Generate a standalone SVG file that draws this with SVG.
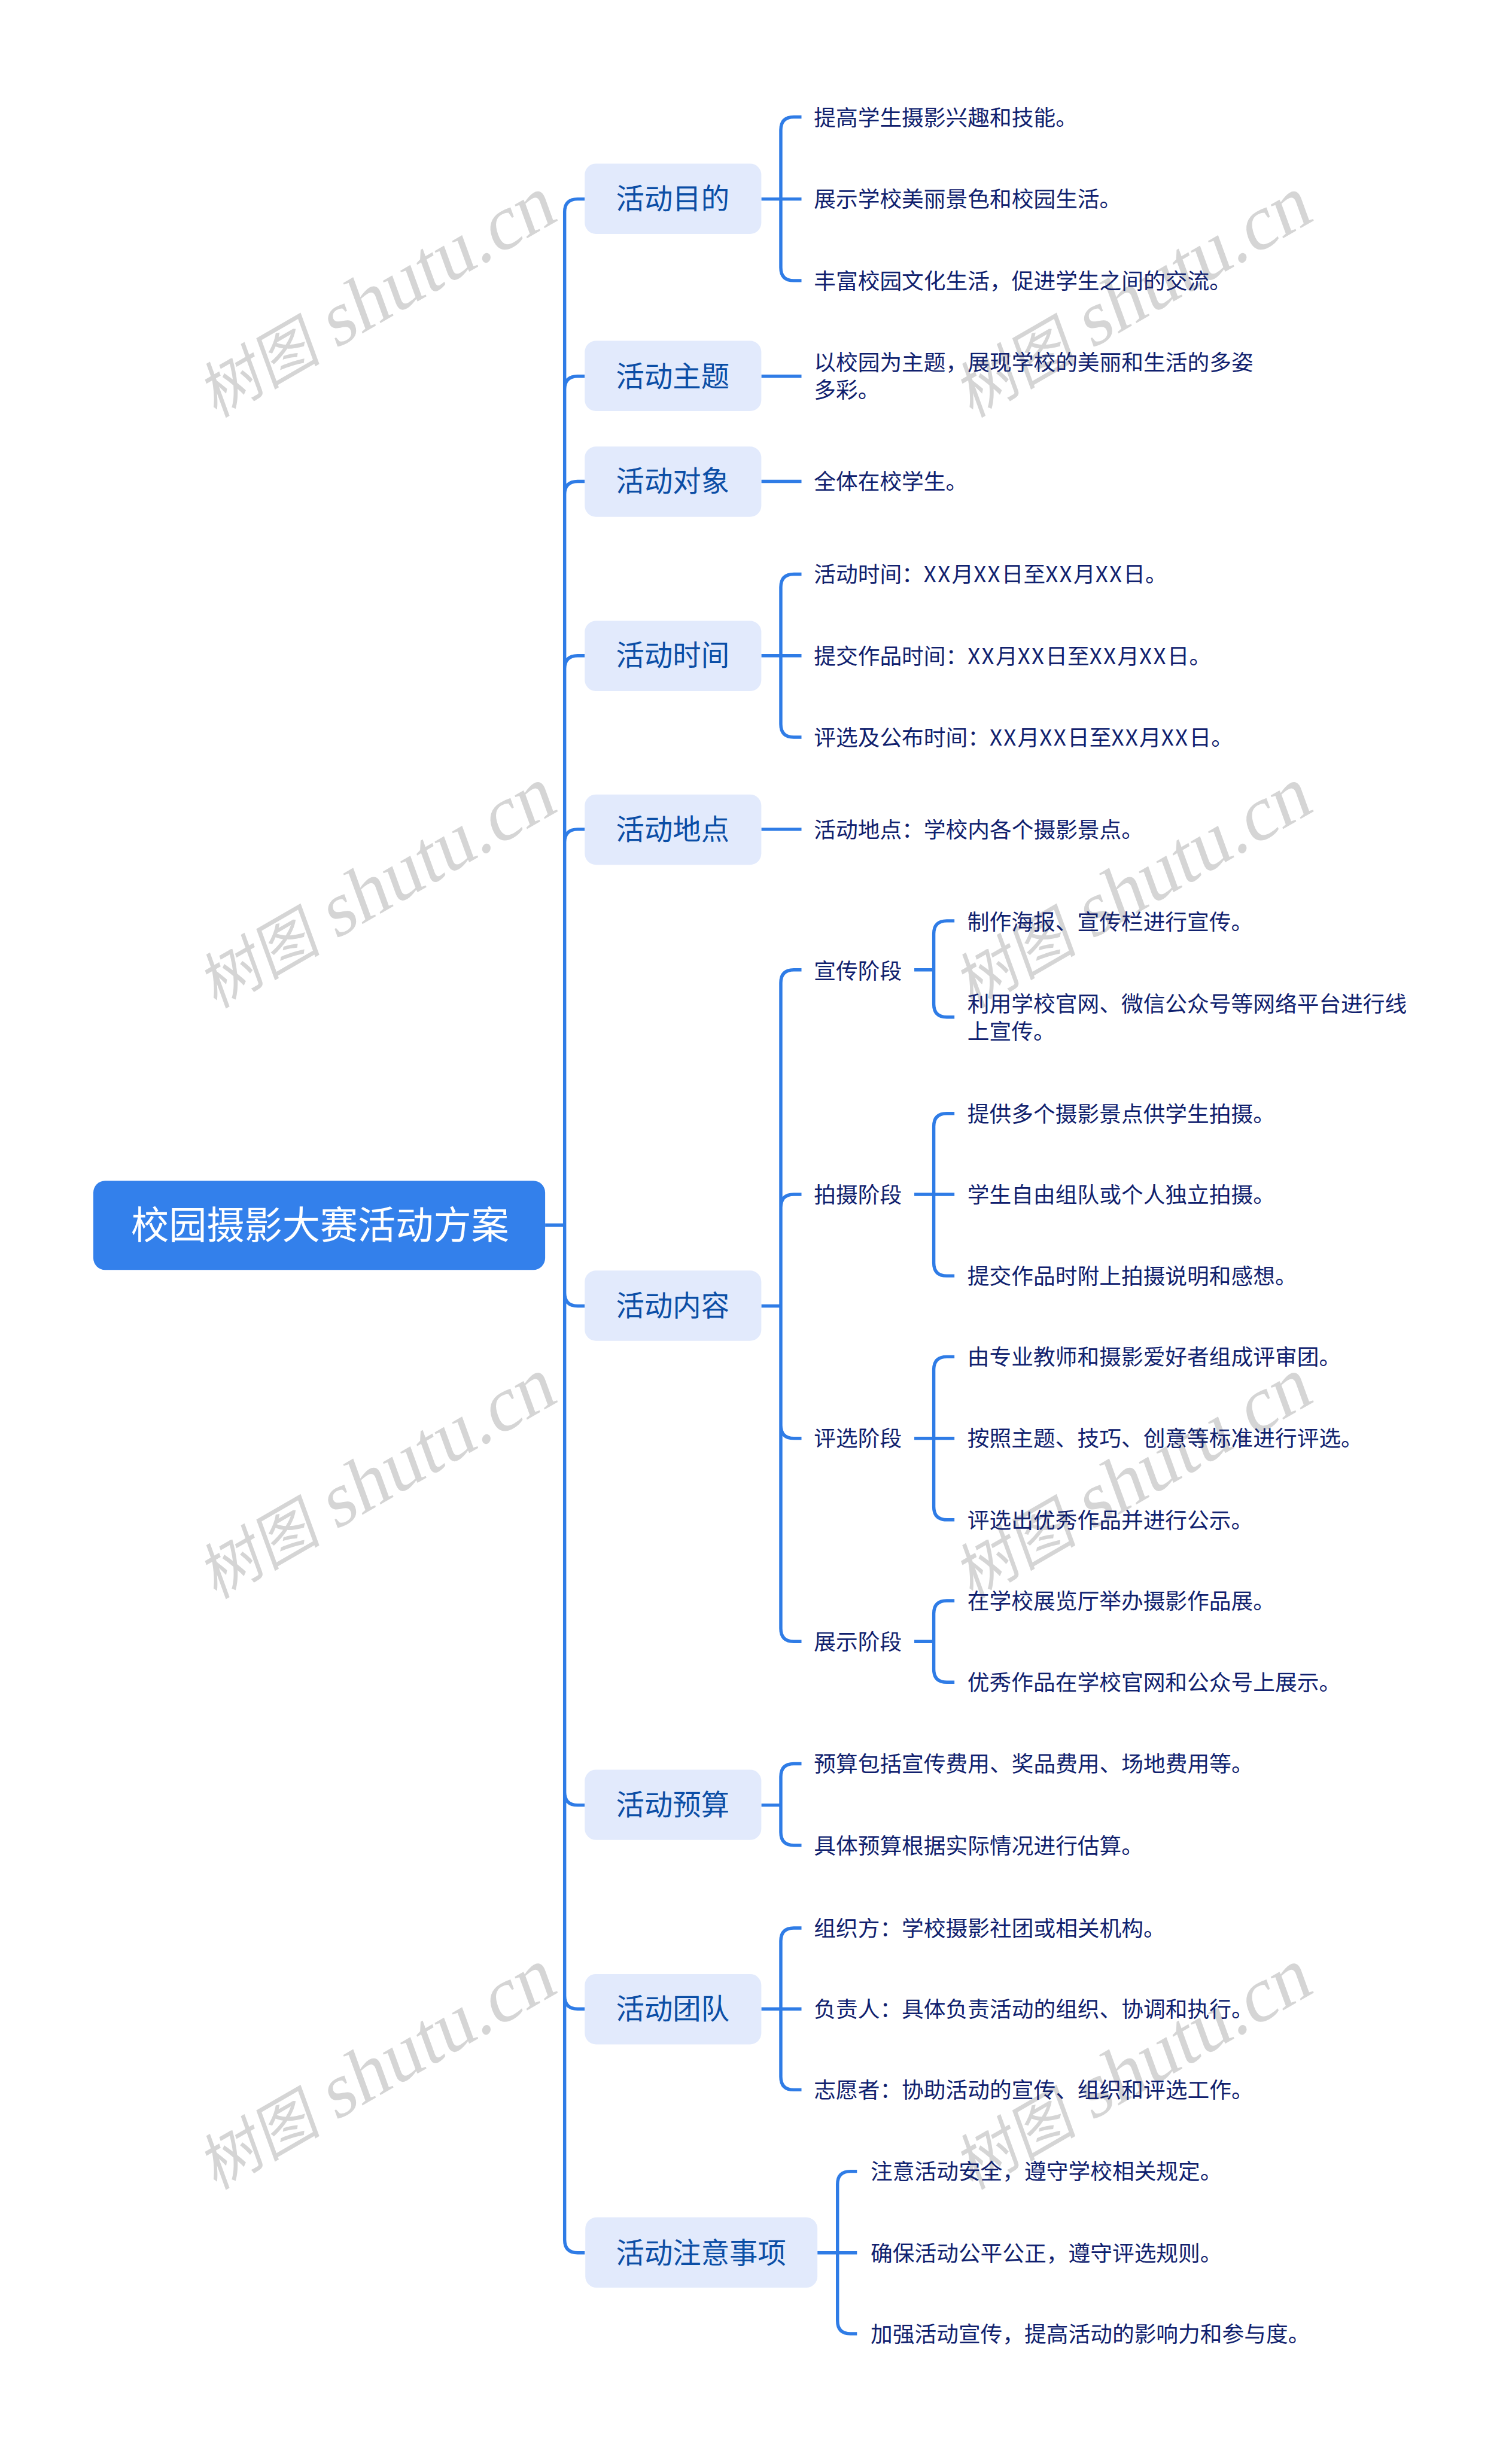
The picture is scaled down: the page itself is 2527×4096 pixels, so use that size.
<svg xmlns="http://www.w3.org/2000/svg" width="2527" height="4096" viewBox="0 0 2527 4096">
<style>
text{font-family:"Noto Sans CJK SC","Noto Sans",sans-serif}
.c{fill:none;stroke:#2f7ce6;stroke-width:5.5;stroke-linecap:butt}
.r{fill:#3380eb}
.b{fill:#e2eafc}
.rt{font-size:64px;fill:#fff}
.bt{font-size:48px;fill:#0b4ea6}
.lt{font-size:37.2px;fill:#10216e}
.x{letter-spacing:2.3px}
.w{font-family:"Liberation Serif","Noto Sans CJK SC",serif;font-size:130px;fill:#d5d5d5}
.wc{font-size:104px}
</style>
<rect width="2527" height="4096" fill="#fff"/>
<g transform="scale(0.98711)">
<g id="watermarks">
<text class="w" transform="translate(365 708) rotate(-30) skewX(-10)"><tspan class="wc">树图 </tspan>shutu.cn</text>
<text class="w" transform="translate(1645 708) rotate(-30) skewX(-10)"><tspan class="wc">树图 </tspan>shutu.cn</text>
<text class="w" transform="translate(365 1708) rotate(-30) skewX(-10)"><tspan class="wc">树图 </tspan>shutu.cn</text>
<text class="w" transform="translate(1645 1708) rotate(-30) skewX(-10)"><tspan class="wc">树图 </tspan>shutu.cn</text>
<text class="w" transform="translate(365 2708) rotate(-30) skewX(-10)"><tspan class="wc">树图 </tspan>shutu.cn</text>
<text class="w" transform="translate(1645 2708) rotate(-30) skewX(-10)"><tspan class="wc">树图 </tspan>shutu.cn</text>
<text class="w" transform="translate(365 3708) rotate(-30) skewX(-10)"><tspan class="wc">树图 </tspan>shutu.cn</text>
<text class="w" transform="translate(1645 3708) rotate(-30) skewX(-10)"><tspan class="wc">树图 </tspan>shutu.cn</text>
</g>
<g id="connectors">
<path class="c" d="M923 2074H956M978 337Q956 337 956 359V3792Q956 3814 978 3814H990M956 659Q956 637 978 637H990M956 837Q956 815 978 815H990M956 1132Q956 1110 978 1110H990M956 1426Q956 1404 978 1404H990M956 2189Q956 2211 978 2211H990M956 3034Q956 3056 978 3056H990M956 3379Q956 3401 978 3401H990M978 337H990"/>
<path class="c" d="M1289 337H1357M1357 198H1344Q1322 198 1322 220V453Q1322 475 1344 475H1357"/>
<path class="c" d="M1289 637H1357M1289 815H1357"/>
<path class="c" d="M1289 1110H1357M1357 972H1344Q1322 972 1322 994V1226Q1322 1248 1344 1248H1357"/>
<path class="c" d="M1289 1404H1357"/>
<path class="c" d="M1289 2211H1322M1357 1642H1344Q1322 1642 1322 1664V2757Q1322 2779 1344 2779H1357M1322 2044Q1322 2022 1344 2022H1357M1322 2413Q1322 2435 1344 2435H1357"/>
<path class="c" d="M1548 1642H1581M1616 1559H1603Q1581 1559 1581 1581V1700Q1581 1722 1603 1722H1616"/>
<path class="c" d="M1548 2022H1616M1616 1885H1603Q1581 1885 1581 1907V2138Q1581 2160 1603 2160H1616"/>
<path class="c" d="M1548 2435H1616M1616 2297H1603Q1581 2297 1581 2319V2551Q1581 2573 1603 2573H1616"/>
<path class="c" d="M1548 2779H1581M1616 2710H1603Q1581 2710 1581 2732V2826Q1581 2848 1603 2848H1616"/>
<path class="c" d="M1289 3056H1322M1357 2986H1344Q1322 2986 1322 3008V3102Q1322 3124 1344 3124H1357"/>
<path class="c" d="M1289 3401H1357M1357 3264H1344Q1322 3264 1322 3286V3516Q1322 3538 1344 3538H1357"/>
<path class="c" d="M1384 3814H1451M1451 3676H1440Q1418 3676 1418 3698V3929Q1418 3951 1440 3951H1451"/>
</g>
<g id="root"><rect class="r" x="158" y="1999" width="765" height="151" rx="20"/><text class="rt" x="222" y="2097">校园摄影大赛活动方案</text></g>
<g id="n1"><rect class="b" x="990" y="277" width="299" height="119" rx="19"/><text class="bt" x="1043" y="354">活动目的</text></g>
<g id="n2"><rect class="b" x="990" y="577" width="299" height="119" rx="19"/><text class="bt" x="1043" y="654">活动主题</text></g>
<g id="n3"><rect class="b" x="990" y="756" width="299" height="119" rx="19"/><text class="bt" x="1043" y="832">活动对象</text></g>
<g id="n4"><rect class="b" x="990" y="1051" width="299" height="119" rx="19"/><text class="bt" x="1043" y="1127">活动时间</text></g>
<g id="n5"><rect class="b" x="990" y="1345" width="299" height="119" rx="19"/><text class="bt" x="1043" y="1421">活动地点</text></g>
<g id="n6"><rect class="b" x="990" y="2151" width="299" height="119" rx="19"/><text class="bt" x="1043" y="2228">活动内容</text></g>
<g id="n7"><rect class="b" x="990" y="2996" width="299" height="119" rx="19"/><text class="bt" x="1043" y="3073">活动预算</text></g>
<g id="n8"><rect class="b" x="990" y="3342" width="299" height="119" rx="19"/><text class="bt" x="1043" y="3418">活动团队</text></g>
<g id="n9"><rect class="b" x="991" y="3754" width="393" height="119" rx="19"/><text class="bt" x="1043" y="3831">活动注意事项</text></g>
<g id="leaves" transform="translate(0 1)">
<g id="l1"><text class="lt" x="1378" y="212">提高学生摄影兴趣和技能。</text></g>
<g id="l2"><text class="lt" x="1378" y="350">展示学校美丽景色和校园生活。</text></g>
<g id="l3"><text class="lt" x="1378" y="488">丰富校园文化生活，促进学生之间的交流。</text></g>
<g id="l4"><text class="lt" x="1378" y="626">以校园为主题，展现学校的美丽和生活的多姿</text><text class="lt" x="1378" y="673">多彩。</text></g>
<g id="l5"><text class="lt" x="1378" y="828">全体在校学生。</text></g>
<g id="l6"><text class="lt" x="1378" y="985">活动时间：<tspan class="x">XX</tspan>月<tspan class="x">XX</tspan>日至<tspan class="x">XX</tspan>月<tspan class="x">XX</tspan>日。</text></g>
<g id="l7"><text class="lt" x="1378" y="1123">提交作品时间：<tspan class="x">XX</tspan>月<tspan class="x">XX</tspan>日至<tspan class="x">XX</tspan>月<tspan class="x">XX</tspan>日。</text></g>
<g id="l8"><text class="lt" x="1378" y="1261">评选及公布时间：<tspan class="x">XX</tspan>月<tspan class="x">XX</tspan>日至<tspan class="x">XX</tspan>月<tspan class="x">XX</tspan>日。</text></g>
<g id="l9"><text class="lt" x="1378" y="1417">活动地点：学校内各个摄影景点。</text></g>
<g id="s1"><text class="lt" x="1378" y="1656">宣传阶段</text></g>
<g id="s2"><text class="lt" x="1378" y="2035">拍摄阶段</text></g>
<g id="s3"><text class="lt" x="1378" y="2448">评选阶段</text></g>
<g id="s4"><text class="lt" x="1378" y="2792">展示阶段</text></g>
<g id="l10"><text class="lt" x="1638" y="1573">制作海报、宣传栏进行宣传。</text></g>
<g id="l11"><text class="lt" x="1638" y="1712">利用学校官网、微信公众号等网络平台进行线</text><text class="lt" x="1638" y="1759">上宣传。</text></g>
<g id="l12"><text class="lt" x="1638" y="1898">提供多个摄影景点供学生拍摄。</text></g>
<g id="l13"><text class="lt" x="1638" y="2035">学生自由组队或个人独立拍摄。</text></g>
<g id="l14"><text class="lt" x="1638" y="2173">提交作品时附上拍摄说明和感想。</text></g>
<g id="l15"><text class="lt" x="1638" y="2310">由专业教师和摄影爱好者组成评审团。</text></g>
<g id="l16"><text class="lt" x="1638" y="2448">按照主题、技巧、创意等标准进行评选。</text></g>
<g id="l17"><text class="lt" x="1638" y="2586">评选出优秀作品并进行公示。</text></g>
<g id="l18"><text class="lt" x="1638" y="2723">在学校展览厅举办摄影作品展。</text></g>
<g id="l19"><text class="lt" x="1638" y="2861">优秀作品在学校官网和公众号上展示。</text></g>
<g id="l20"><text class="lt" x="1378" y="2999">预算包括宣传费用、奖品费用、场地费用等。</text></g>
<g id="l21"><text class="lt" x="1378" y="3137">具体预算根据实际情况进行估算。</text></g>
<g id="l22"><text class="lt" x="1378" y="3277">组织方：学校摄影社团或相关机构。</text></g>
<g id="l23"><text class="lt" x="1378" y="3414">负责人：具体负责活动的组织、协调和执行。</text></g>
<g id="l24"><text class="lt" x="1378" y="3551">志愿者：协助活动的宣传、组织和评选工作。</text></g>
<g id="l25"><text class="lt" x="1474" y="3689">注意活动安全，遵守学校相关规定。</text></g>
<g id="l26"><text class="lt" x="1474" y="3827">确保活动公平公正，遵守评选规则。</text></g>
<g id="l27"><text class="lt" x="1474" y="3964">加强活动宣传，提高活动的影响力和参与度。</text></g>
</g>
</g>
</svg>
